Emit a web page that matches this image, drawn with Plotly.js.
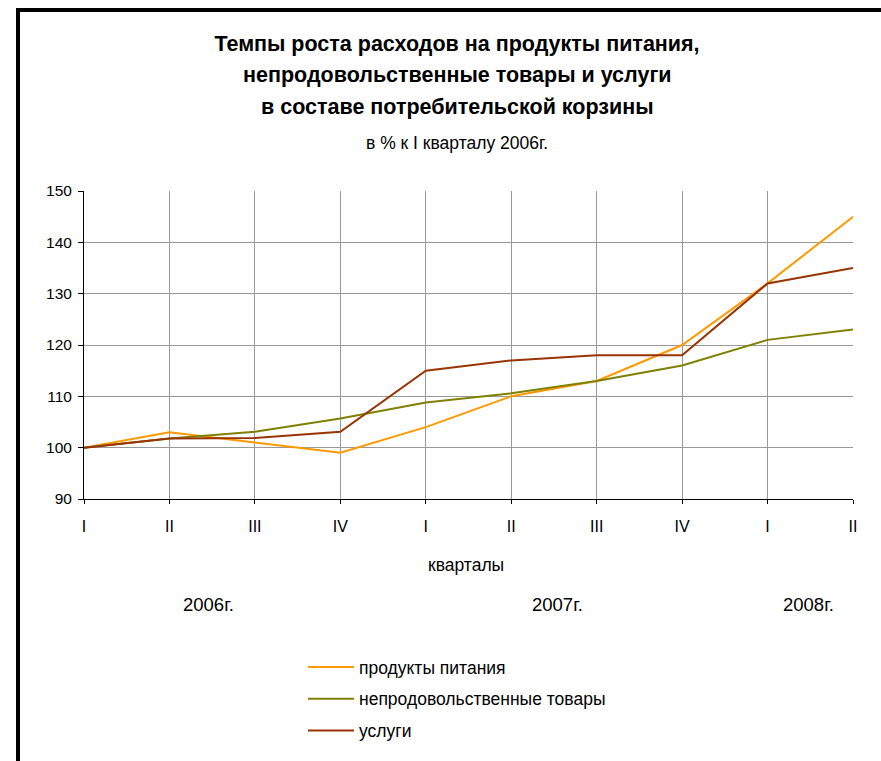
<!DOCTYPE html>
<html>
<head>
<meta charset="utf-8">
<script src="https://cdn.plot.ly/plotly-3.0.1.min.js"></script>
<style>
html,body{margin:0;padding:0;background:#fff;}
#chart{width:881px;height:761px;}
</style>
</head>
<body>
<div id="chart"></div>
<script>
const quarters = ["I","II","III","IV","I","II","III","IV","I","II"];
const years = ["2006г.","2007г.","2008г."];
const food = [100,103,101,99,104,110,113,120,132,145];
const nonFood = [100,101.8,103.1,105.7,108.8,110.6,113,116,121,123];
const services = [100,101.8,101.9,103.1,115,117,118,118,132,135];
const seriesNames = ["продукты питания","непродовольственные товары","услуги"];
const seriesColors = ["#FF9900","#808000","#993300"];

const idx = quarters.map((_, i) => i);
const FONT = "'Liberation Sans',Arial,sans-serif";

const W = 881, H = 761;
const mL = 84, mR = 28, mT = 191, mB = 262;
const pw = W - mL - mR, ph = H - mT - mB;
const px = x => (x - mL) / pw;
const py = y => (H - mB - y) / ph;

const traces = [food, nonFood, services].map((vals, k) => ({
  type: "scatter", mode: "lines", x: idx, y: vals,
  name: seriesNames[k], legendgroup: "g" + k,
  line: {color: seriesColors[k], width: 2},
  hoverinfo: "y"
}));

const layout = {
  width: W, height: H,
  margin: {l: mL, r: mR, t: mT, b: mB, autoexpand: false},
  paper_bgcolor: "#fff", plot_bgcolor: "#fff",
  font: {family: FONT, size: 16, color: "#000"},
  title: {text: "<b>Темпы роста расходов на продукты питания,</b>",
    font: {family: FONT, size: 21.5, color: "#000"},
    x: px(457), xanchor: "center", xref: "paper",
    y: 1 - 43 / H, yanchor: "middle", yref: "container"},
  xaxis: {
    range: [0, 9], tickvals: idx, ticktext: quarters,
    showgrid: true, gridcolor: "#999", gridwidth: 1,
    showline: true, linecolor: "#000", linewidth: 1,
    ticks: "outside", ticklen: 4, tickcolor: "#000",
    ticklabelstandoff: 9,
    tickfont: {family: FONT, size: 16}, zeroline: false, fixedrange: true
  },
  yaxis: {
    range: [90, 150], dtick: 10, tick0: 90,
    showgrid: true, gridcolor: "#999", gridwidth: 1,
    showline: true, linecolor: "#000", linewidth: 1,
    ticks: "outside", ticklen: 5, tickcolor: "#000",
    ticklabelstandoff: 3,
    tickfont: {family: FONT, size: 15.5}, zeroline: false, fixedrange: true
  },
  showlegend: true,
  legend: {x: px(303), xanchor: "left", y: py(649), yanchor: "top",
    font: {family: FONT, size: 17.5}, traceorder: "grouped", tracegroupgap: 6,
    itemwidth: 46, bgcolor: "rgba(0,0,0,0)"},
  annotations: [
    {text: "<b>непродовольственные товары и услуги</b>", x: px(457), y: py(75), font: {size: 21.5}},
    {text: "<b>в составе потребительской корзины</b>", x: px(457), y: py(107), font: {size: 21.5}},
    {text: "в % к I кварталу 2006г.", x: px(457), y: py(143), font: {size: 17.5}},
    {text: "кварталы", x: px(466), y: py(565), font: {size: 17.5}},
    {text: years[0], x: px(208), y: py(604), font: {size: 18.5}},
    {text: years[1], x: px(557), y: py(604), font: {size: 18.5}},
    {text: years[2], x: px(808), y: py(604), font: {size: 18.5}}
  ].map(a => Object.assign({xref: "paper", yref: "paper", showarrow: false,
    xanchor: "center", yanchor: "middle"}, a, {font: Object.assign({family: FONT, color: "#000"}, a.font)})),
  shapes: [
    {type: "line", xref: "paper", yref: "paper", x0: px(16), x1: px(881), y0: py(10), y1: py(10), line: {color: "#000", width: 4}},
    {type: "line", xref: "paper", yref: "paper", x0: px(18), x1: px(18), y0: py(8), y1: py(761), line: {color: "#000", width: 4}}
  ]
};

Plotly.newPlot("chart", traces, layout, {displayModeBar: false, staticPlot: true});
</script>
</body>
</html>
